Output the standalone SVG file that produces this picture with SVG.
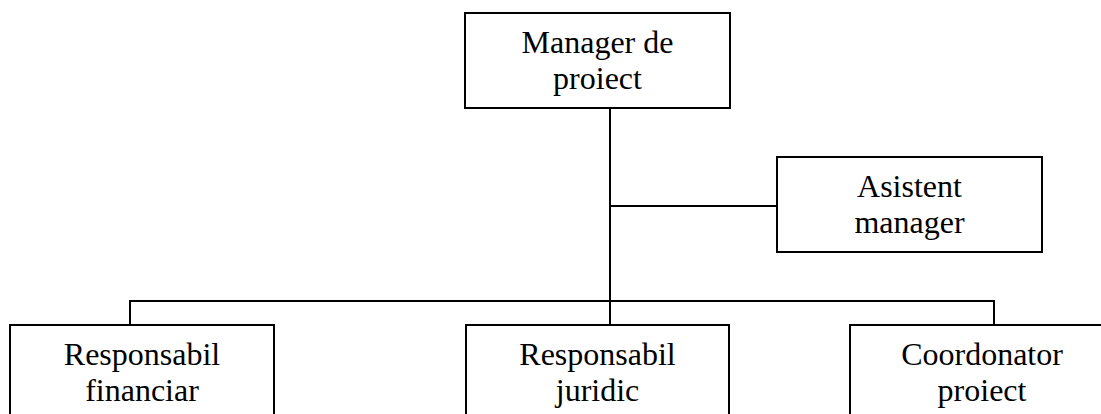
<svg xmlns="http://www.w3.org/2000/svg" width="1101" height="414" viewBox="0 0 1101 414">
<style>
.box{fill:#fff;stroke:#000;stroke-width:2}
.ln{stroke:#000;stroke-width:2;fill:none}
text{font-family:"Liberation Serif","Times New Roman",serif;font-size:32px;fill:#000;text-anchor:middle}
</style>
<rect width="1101" height="414" fill="#fff"/>
<g id="connectors">
<line class="ln" x1="610" y1="108" x2="610" y2="325"/>
<line class="ln" x1="610" y1="206" x2="777" y2="206"/>
<polyline class="ln" points="130,325 130,301 994,301 994,325"/>
</g>
<g id="manager">
<rect class="box" x="465" y="13" width="265" height="95"/>
<text x="597.5" y="53">Manager de</text>
<text x="597.5" y="89">proiect</text>
</g>
<g id="asistent">
<rect class="box" x="777" y="157" width="265" height="95"/>
<text x="909.5" y="197">Asistent</text>
<text x="909.5" y="233">manager</text>
</g>
<g id="financiar">
<rect class="box" x="10" y="325" width="264" height="100"/>
<text x="142" y="365">Responsabil</text>
<text x="142" y="401">financiar</text>
</g>
<g id="juridic">
<rect class="box" x="466" y="325" width="263" height="100"/>
<text x="597.5" y="365">Responsabil</text>
<text x="597.5" y="401">juridic</text>
</g>
<g id="coordonator">
<rect class="box" x="850" y="325" width="264" height="100"/>
<text x="982" y="365">Coordonator</text>
<text x="982" y="401">proiect</text>
</g>
</svg>
